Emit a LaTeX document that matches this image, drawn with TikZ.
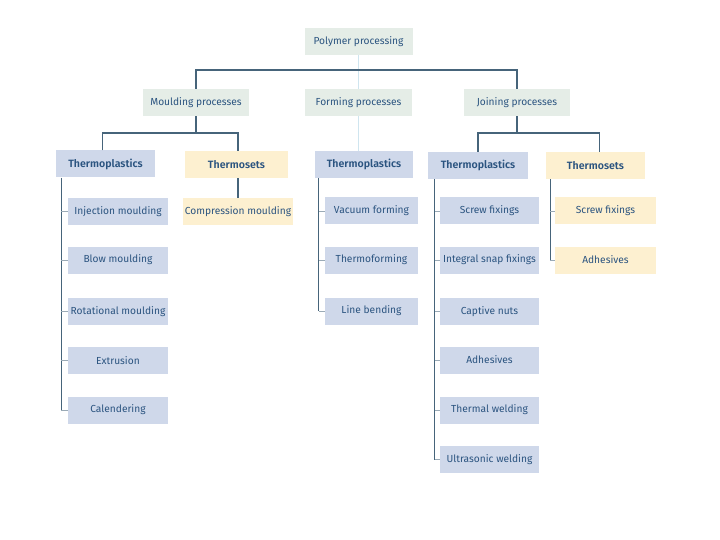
\documentclass[tikz,border=0pt]{standalone}
\usepackage{fontspec}
\setmainfont{Fira Sans}
\newfontfamily\boldf{Fira Sans SemiBold}
\definecolor{txt}{HTML}{2B5480}
\definecolor{gbox}{HTML}{E5EDE7}
\definecolor{bbox}{HTML}{CFD8EA}
\definecolor{ybox}{HTML}{FDF0D0}
\definecolor{lnk}{HTML}{46647A}
\definecolor{pale}{HTML}{CFE5EF}
\definecolor{tick}{HTML}{9AAAB6}
\tikzset{
  box/.style={inner sep=0pt, minimum height=27pt, text=txt, font=\fontsize{10.2}{12}\selectfont},
  gnode/.style={box, fill=gbox},
  bnode/.style={box, fill=bbox},
  ynode/.style={box, fill=ybox},
  hnode/.style={font=\boldf\fontsize{10.6}{12}\selectfont},
  link/.style={draw=lnk, line width=1.2pt},
  palelink/.style={draw=pale, line width=1.2pt},
  ticklink/.style={draw=tick, line width=0.8pt}
}
\begin{document}
\begin{tikzpicture}[x=1pt,y=-1pt]
\useasboundingbox[fill=white] (0,0) rectangle (720,540);
% level 0/1
\node[gnode, minimum width=108pt] (root) at (358.5,41.5) {Polymer processing};
\node[gnode, minimum width=106pt] (mould) at (196,102.5) {Moulding processes};
\node[gnode, minimum width=107pt] (form) at (358.5,102.5) {Forming processes};
\node[gnode, minimum width=106pt] (join) at (517,102.5) {Joining processes};
% level 2
\node[bnode, hnode, minimum width=99pt] (mtp) at (105.5,164) {Thermoplastics};
\node[ynode, hnode, minimum width=103pt] (mts) at (236.5,164.5) {Thermosets};
\node[bnode, hnode, minimum width=98pt] (ftp) at (364,164.5) {Thermoplastics};
\node[bnode, hnode, minimum width=100pt] (jtp) at (478,165.5) {Thermoplastics};
\node[ynode, hnode, minimum width=99pt] (jts) at (595.5,165.5) {Thermosets};
% moulding children
\node[bnode, minimum width=100pt] (m1) at (118,211.5) {Injection moulding};
\node[bnode, minimum width=100pt] (m2) at (118,260) {Blow moulding};
\node[bnode, minimum width=100pt] (m3) at (118,311.5) {Rotational moulding};
\node[bnode, minimum width=100pt] (m4) at (118,360.5) {Extrusion};
\node[bnode, minimum width=100pt] (m5) at (118,410) {Calendering};
\node[ynode, minimum width=110pt] (ms1) at (238,211.5) {Compression moulding};
% forming children
\node[bnode, minimum width=93pt] (f1) at (371.5,211) {Vacuum forming};
\node[bnode, minimum width=93pt] (f2) at (371.5,260) {Thermoforming};
\node[bnode, minimum width=93pt] (f3) at (371.5,311) {Line bending};
% joining children
\node[bnode, minimum width=99pt] (j1) at (489.5,211) {Screw fixings};
\node[bnode, minimum width=99pt] (j2) at (489.5,260) {Integral snap fixings};
\node[bnode, minimum width=99pt] (j3) at (489.5,311.5) {Captive nuts};
\node[bnode, minimum width=99pt] (j4) at (489.5,360) {Adhesives};
\node[bnode, minimum width=99pt] (j5) at (489.5,410) {Thermal welding};
\node[bnode, minimum width=99pt] (j6) at (489.5,459.5) {Ultrasonic welding};
\node[ynode, minimum width=101pt] (js1) at (605.5,211) {Screw fixings};
\node[ynode, minimum width=101pt] (js2) at (605.5,260) {Adhesives};
% top connectors
\draw[palelink] (root.south) -- (form.north);
\draw[palelink] (form.south) -- (form.south |- ftp.north);
\coordinate (bar1) at (0,70);
\draw[link] (mould.north) |- (bar1 -| join.north) -- (join.north);
% moulding
\coordinate (bar2) at (0,133);
\draw[link] (mould.south) -- (mould.south |- bar2);
\coordinate (mtpt) at ([xshift=-3pt]mtp.north);
\coordinate (mtst) at ([xshift=1.5pt]mts.north);
\draw[link] (mtpt) |- (bar2 -| mtst) -- (mtst);
\coordinate (mtsb) at ([xshift=1.5pt]mts.south);
\draw[link] (mtsb) -- (mtsb |- ms1.north);
% joining
\coordinate (jtst) at ([xshift=4pt]jts.north);
\draw[link] (join.south) -- (join.south |- bar2);
\draw[link] (jtp.north) |- (bar2 -| jtst) -- (jtst);
% trunks
\coordinate (tm) at ([xshift=5.5pt]mtp.south west);
\draw[link] (tm) -- (tm |- m5.west);
\foreach \n in {m1,m2,m3,m4,m5} \draw[ticklink] (\n.west -| tm) -- (\n.west);
\coordinate (tf) at ([xshift=4pt]ftp.south west);
\draw[link] (tf) -- (tf |- f3.west);
\foreach \n in {f1,f2,f3} \draw[ticklink] (\n.west -| tf) -- (\n.west);
\coordinate (tj) at ([xshift=7pt]jtp.south west);
\draw[link] (tj) -- (tj |- j6.west);
\foreach \n in {j1,j2,j3,j4,j5,j6} \draw[ticklink] (\n.west -| tj) -- (\n.west);
\coordinate (tjs) at ([xshift=4.5pt]jts.south west);
\draw[link] (tjs) -- (tjs |- js2.west);
\foreach \n in {js1,js2} \draw[ticklink] (\n.west -| tjs) -- (\n.west);
\end{tikzpicture}
\end{document}
